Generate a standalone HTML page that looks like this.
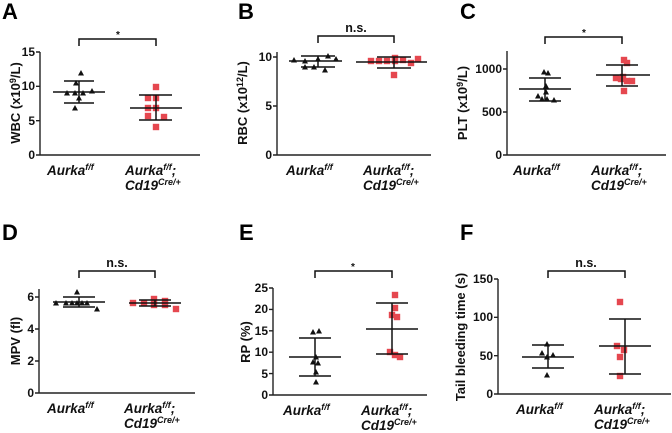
<!DOCTYPE html>
<html><head><meta charset="utf-8"><style>
html,body{margin:0;padding:0;background:#fff;}
svg{display:block;font-family:"Liberation Sans",Arial,sans-serif;}
.ax{stroke:#222;stroke-width:1.4;fill:none}
.eb{stroke:#111;stroke-width:1.5;fill:none}
.tk{font-size:12px;font-weight:bold;text-anchor:end;fill:#111}
.yl{font-size:13px;font-weight:bold;text-anchor:middle;fill:#111}
.xl{font-size:13.5px;font-weight:bold;font-style:italic;fill:#111}
.sp{font-size:9px}
.pl{font-size:22px;font-weight:bold;fill:#000}
.st{font-size:12.5px;font-weight:bold;text-anchor:middle;fill:#111}
</style></head><body>
<svg width="672" height="433" viewBox="0 0 672 433" xmlns="http://www.w3.org/2000/svg">
<defs>
<path id="t" d="M-3,2.5L3,2.5L0,-3z" fill="#111"/>
<rect id="s" x="-3.2" y="-3.2" width="6.4" height="6.4" fill="#e5474f"/>
</defs>
<text class="pl" x="2" y="19">A</text>
<text class="pl" x="238" y="19">B</text>
<text class="pl" x="460" y="19">C</text>
<text class="pl" x="2" y="240">D</text>
<text class="pl" x="239" y="240">E</text>
<text class="pl" x="460" y="240">F</text>

<!-- A -->
<g transform="translate(40,155)">
<path class="ax" d="M0,-103V0H160M-4,0H0M-4,-34.3H0M-4,-68.7H0M-4,-103H0"/>
<text class="tk" x="-5" y="4">0</text><text class="tk" x="-5" y="-30">5</text><text class="tk" x="-5" y="-65">10</text><text class="tk" x="-5" y="-99">15</text>
<text class="yl" transform="translate(-20,-52) rotate(-90)">WBC (x10<tspan class="sp" dy="-4">9</tspan><tspan dy="4">/L)</tspan></text>
<path class="eb" d="M39,-109V-116H116V-109"/><text class="st" x="78" y="-117" style="font-size:10px">*</text>
<use href="#t" x="41" y="-82"/><use href="#t" x="36" y="-72"/><use href="#t" x="27" y="-62"/><use href="#t" x="35" y="-62"/><use href="#t" x="43" y="-62"/><use href="#t" x="52" y="-64"/><use href="#t" x="39" y="-57"/><use href="#t" x="35" y="-47"/>
<path class="eb" d="M13,-63H65M24,-74H54M24,-52H54M39,-74V-52"/>
<use href="#s" x="116" y="-68"/><use href="#s" x="108" y="-57"/><use href="#s" x="116" y="-57"/><use href="#s" x="108" y="-47"/><use href="#s" x="116" y="-47"/><use href="#s" x="108" y="-39"/><use href="#s" x="124" y="-38"/><use href="#s" x="116" y="-28"/>
<path class="eb" d="M90,-47H142M99,-60H132M99,-35H132M116,-60V-35"/>
<text class="xl" x="7" y="20">Aurka<tspan class="sp" dy="-5">f/f</tspan></text>
<text class="xl" x="85" y="20">Aurka<tspan class="sp" dy="-5">f/f</tspan><tspan dy="5">;</tspan></text>
<text class="xl" x="85" y="35">Cd19<tspan class="sp" dy="-5">Cre/+</tspan></text>
</g>

<!-- B -->
<g transform="translate(277,155)">
<path class="ax" d="M0,-103V0H154M-4,0H0M-4,-49H0M-4,-98H0"/>
<text class="tk" x="-5" y="4">0</text><text class="tk" x="-5" y="-45">5</text><text class="tk" x="-5" y="-94">10</text>
<text class="yl" transform="translate(-30,-52) rotate(-90)">RBC (x10<tspan class="sp" dy="-4">12</tspan><tspan dy="4">/L)</tspan></text>
<path class="eb" d="M41,-112V-119H117V-112"/><text class="st" x="79" y="-123">n.s.</text>
<use href="#t" x="17" y="-95"/><use href="#t" x="28" y="-94"/><use href="#t" x="28" y="-88"/><use href="#t" x="37" y="-88"/><use href="#t" x="41" y="-96"/><use href="#t" x="48" y="-85"/><use href="#t" x="51" y="-99"/><use href="#t" x="59" y="-96"/>
<path class="eb" d="M12,-94H65M24,-99H58M24,-88H58M41,-99V-88"/>
<use href="#s" x="94" y="-94"/><use href="#s" x="102" y="-94"/><use href="#s" x="110" y="-94"/><use href="#s" x="118" y="-94"/><use href="#s" x="118" y="-97"/><use href="#s" x="126" y="-95"/><use href="#s" x="134" y="-92"/><use href="#s" x="141" y="-96"/><use href="#s" x="117" y="-80"/>
<path class="eb" d="M79,-93H150M100,-98H134M100,-87H134M117,-98V-87"/>
<text class="xl" x="9" y="20">Aurka<tspan class="sp" dy="-5">f/f</tspan></text>
<text class="xl" x="86" y="20">Aurka<tspan class="sp" dy="-5">f/f</tspan><tspan dy="5">;</tspan></text>
<text class="xl" x="86" y="35">Cd19<tspan class="sp" dy="-5">Cre/+</tspan></text>
</g>

<!-- C -->
<g transform="translate(507,155)">
<path class="ax" d="M0,-104V0H159M-4,0H0M-4,-43H0M-4,-86H0"/>
<text class="tk" x="-5" y="4">0</text><text class="tk" x="-5" y="-39">500</text><text class="tk" x="-5" y="-82">1000</text>
<text class="yl" transform="translate(-40,-52) rotate(-90)">PLT (x10<tspan class="sp" dy="-4">9</tspan><tspan dy="4">/L)</tspan></text>
<path class="eb" d="M38,-111V-118H115V-111"/><text class="st" x="77" y="-119" style="font-size:10px">*</text>
<use href="#t" x="37" y="-83"/><use href="#t" x="41" y="-82"/><use href="#t" x="39" y="-69"/><use href="#t" x="39" y="-63"/><use href="#t" x="31" y="-59"/><use href="#t" x="35" y="-56"/><use href="#t" x="40" y="-56"/><use href="#t" x="47" y="-55"/>
<path class="eb" d="M12,-66H64M22,-77H54M22,-54H54M38,-77V-54"/>
<use href="#s" x="117" y="-95"/><use href="#s" x="120" y="-92"/><use href="#s" x="116" y="-78"/><use href="#s" x="109" y="-77"/><use href="#s" x="114" y="-76"/><use href="#s" x="120" y="-74"/><use href="#s" x="125" y="-74"/><use href="#s" x="117" y="-64"/>
<path class="eb" d="M89,-80H143M99,-90H131M99,-69H131M115,-90V-69"/>
<text class="xl" x="6" y="20">Aurka<tspan class="sp" dy="-5">f/f</tspan></text>
<text class="xl" x="84" y="20">Aurka<tspan class="sp" dy="-5">f/f</tspan><tspan dy="5">;</tspan></text>
<text class="xl" x="84" y="35">Cd19<tspan class="sp" dy="-5">Cre/+</tspan></text>
</g>

<!-- D -->
<g transform="translate(39,393)">
<path class="ax" d="M0,-104V0H156M-4,0H0M-4,-32H0M-4,-64H0M-4,-96H0"/>
<text class="tk" x="-5" y="4">0</text><text class="tk" x="-5" y="-28">2</text><text class="tk" x="-5" y="-60">4</text><text class="tk" x="-5" y="-92">6</text>
<text class="yl" transform="translate(-19,-52) rotate(-90)">MPV (fl)</text>
<path class="eb" d="M40,-115V-122H116V-115"/><text class="st" x="78" y="-126">n.s.</text>
<use href="#t" x="38" y="-101"/><use href="#t" x="17" y="-90"/><use href="#t" x="27" y="-90"/><use href="#t" x="33" y="-90"/><use href="#t" x="38" y="-90"/><use href="#t" x="43" y="-90"/><use href="#t" x="48" y="-90"/><use href="#t" x="58" y="-84"/>
<path class="eb" d="M14,-91H66M24,-96H56M24,-86H56M40,-96V-86"/>
<use href="#s" x="94" y="-90"/><use href="#s" x="105" y="-90"/><use href="#s" x="115" y="-94"/><use href="#s" x="115" y="-88"/><use href="#s" x="126" y="-92"/><use href="#s" x="126" y="-88"/><use href="#s" x="137" y="-84"/>
<path class="eb" d="M90,-90H142M100,-93H132M100,-87H132M116,-93V-87"/>
<text class="xl" x="8" y="20">Aurka<tspan class="sp" dy="-5">f/f</tspan></text>
<text class="xl" x="85" y="20">Aurka<tspan class="sp" dy="-5">f/f</tspan><tspan dy="5">;</tspan></text>
<text class="xl" x="85" y="35">Cd19<tspan class="sp" dy="-5">Cre/+</tspan></text>
</g>

<!-- E -->
<g transform="translate(273,395)">
<path class="ax" d="M0,-107V0H154M-4,0H0M-4,-21.4H0M-4,-42.8H0M-4,-64.2H0M-4,-85.6H0M-4,-107H0"/>
<text class="tk" x="-5" y="4">0</text><text class="tk" x="-5" y="-17">5</text><text class="tk" x="-5" y="-39">10</text><text class="tk" x="-5" y="-60">15</text><text class="tk" x="-5" y="-82">20</text><text class="tk" x="-5" y="-103">25</text>
<text class="yl" transform="translate(-23,-53) rotate(-90)">RP (%)</text>
<path class="eb" d="M42,-117V-124H119V-117"/><text class="st" x="80" y="-125" style="font-size:10px">*</text>
<use href="#t" x="40" y="-63"/><use href="#t" x="46" y="-64"/><use href="#t" x="43" y="-38"/><use href="#t" x="40" y="-33"/><use href="#t" x="45" y="-32"/><use href="#t" x="43" y="-23"/><use href="#t" x="43" y="-13"/>
<path class="eb" d="M16,-38H68M26,-57H58M26,-19H58M42,-57V-19"/>
<use href="#s" x="122" y="-100"/><use href="#s" x="122" y="-87"/><use href="#s" x="119" y="-80"/><use href="#s" x="124" y="-78"/><use href="#s" x="117" y="-43"/><use href="#s" x="122" y="-40"/><use href="#s" x="127" y="-38"/>
<path class="eb" d="M93,-66H145M103,-92H135M103,-41H135M119,-92V-41"/>
<text class="xl" x="10" y="20">Aurka<tspan class="sp" dy="-5">f/f</tspan></text>
<text class="xl" x="88" y="20">Aurka<tspan class="sp" dy="-5">f/f</tspan><tspan dy="5">;</tspan></text>
<text class="xl" x="88" y="35">Cd19<tspan class="sp" dy="-5">Cre/+</tspan></text>
</g>

<!-- F -->
<g transform="translate(498,394)">
<path class="ax" d="M0,-115V0H173M-4,0H0M-4,-38.3H0M-4,-76.7H0M-4,-115H0"/>
<text class="tk" x="-5" y="4">0</text><text class="tk" x="-5" y="-34">50</text><text class="tk" x="-5" y="-73">100</text><text class="tk" x="-5" y="-111">150</text>
<text class="yl" transform="translate(-33,-57) rotate(-90)">Tail bleeding time (s)</text>
<path class="eb" d="M50,-116V-123H127V-116"/><text class="st" x="88" y="-127">n.s.</text>
<use href="#t" x="49" y="-50"/><use href="#t" x="44" y="-41"/><use href="#t" x="55" y="-39"/><use href="#t" x="49" y="-37"/><use href="#t" x="49" y="-19"/>
<path class="eb" d="M24,-37H76M34,-49H66M34,-26H66M50,-49V-26"/>
<use href="#s" x="122" y="-92"/><use href="#s" x="119" y="-48"/><use href="#s" x="126" y="-44"/><use href="#s" x="122" y="-37"/><use href="#s" x="122" y="-18"/>
<path class="eb" d="M101,-48H153M111,-75H143M111,-20H143M127,-75V-20"/>
<text class="xl" x="18" y="20">Aurka<tspan class="sp" dy="-5">f/f</tspan></text>
<text class="xl" x="96" y="20">Aurka<tspan class="sp" dy="-5">f/f</tspan><tspan dy="5">;</tspan></text>
<text class="xl" x="96" y="35">Cd19<tspan class="sp" dy="-5">Cre/+</tspan></text>
</g>
</svg>
</body></html>
